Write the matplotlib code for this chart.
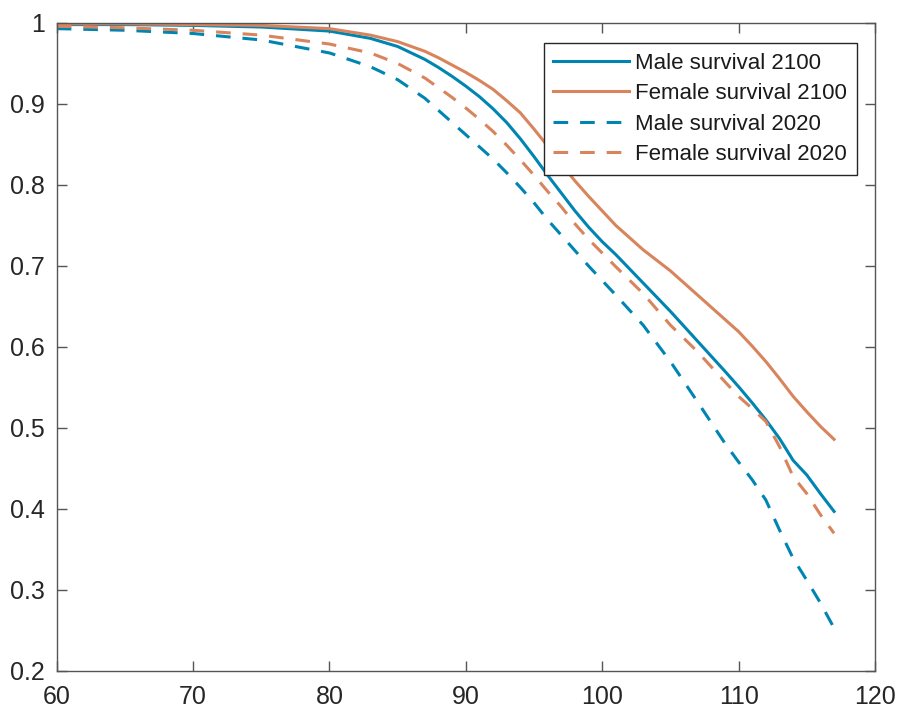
import matplotlib
matplotlib.use('Agg')
import matplotlib.pyplot as plt

plt.rcParams['font.family'] = ['Liberation Sans', 'DejaVu Sans']

# Survival probability by age
ages = [60, 65, 70, 75, 80, 83, 85, 87, 88, 89, 90, 91, 92, 93, 94, 95, 96, 97,
        98, 99, 100, 101, 103, 105, 107, 109, 110, 111, 112, 113, 114, 115, 116, 117]

male_2100 = [0.998, 0.998, 0.997, 0.995, 0.990, 0.981, 0.971, 0.955, 0.945, 0.934,
             0.922, 0.909, 0.894, 0.877, 0.857, 0.835, 0.812, 0.790, 0.768, 0.748,
             0.730, 0.714, 0.679, 0.644, 0.607, 0.570, 0.551, 0.531, 0.510, 0.487,
             0.460, 0.442, 0.419, 0.397]
female_2100 = [0.999, 0.999, 0.998, 0.997, 0.993, 0.985, 0.977, 0.965, 0.957, 0.948,
               0.939, 0.929, 0.918, 0.904, 0.889, 0.869, 0.848, 0.826, 0.805, 0.786,
               0.768, 0.750, 0.720, 0.694, 0.664, 0.634, 0.619, 0.601, 0.582, 0.561,
               0.539, 0.520, 0.502, 0.486]
male_2020 = [0.993, 0.991, 0.987, 0.979, 0.963, 0.946, 0.930, 0.907, 0.892, 0.877,
             0.862, 0.847, 0.832, 0.815, 0.797, 0.778, 0.757, 0.738, 0.719, 0.700,
             0.682, 0.664, 0.627, 0.582, 0.532, 0.481, 0.458, 0.436, 0.411, 0.374,
             0.339, 0.312, 0.284, 0.253]
female_2020 = [0.996, 0.994, 0.991, 0.985, 0.974, 0.963, 0.950, 0.932, 0.920, 0.908,
               0.895, 0.881, 0.866, 0.849, 0.831, 0.812, 0.792, 0.773, 0.752, 0.733,
               0.716, 0.699, 0.666, 0.627, 0.594, 0.557, 0.539, 0.524, 0.508, 0.477,
               0.440, 0.419, 0.393, 0.370]

x_ticks = [60, 70, 80, 90, 100, 110, 120]
y_ticks = [0.2, 0.3, 0.4, 0.5, 0.6, 0.7, 0.8, 0.9, 1.0]
y_tick_labels = ['0.2', '0.3', '0.4', '0.5', '0.6', '0.7', '0.8', '0.9', '1']

blue = '#0085B2'
orange = '#D8845C'
dash = (0, (4.8, 3.9))

fig = plt.figure(figsize=(9, 7.09), dpi=100)
ax = fig.add_axes([0.063, 0.0536, 0.9092, 0.914])

ax.plot(ages, male_2100, color=blue, lw=2.2, label='Male survival 2100')
ax.plot(ages, female_2100, color=orange, lw=2.2, label='Female survival 2100')
ax.plot(ages, male_2020, color=blue, lw=2.2, ls=dash, label='Male survival 2020')
ax.plot(ages, female_2020, color=orange, lw=2.2, ls=dash, label='Female survival 2020')

ax.set_xlim(60, 120)
ax.set_ylim(0.2, 1.0)
ax.set_xticks(x_ticks)
ax.set_yticks(y_ticks)
ax.set_yticklabels(y_tick_labels)

ax.tick_params(direction='in', length=7, width=1, colors='#555555',
               labelcolor='#262626', labelsize=18, top=True, right=True)
ax.tick_params(axis='x', pad=10)
ax.tick_params(axis='y', pad=8.5)
for spine in ax.spines.values():
    spine.set_edgecolor('#555555')
    spine.set_linewidth(1)

leg = ax.legend(loc='upper right', bbox_to_anchor=(0.9776, 0.9687), borderaxespad=0,
                fontsize=16, handlelength=3.4, handletextpad=0.3, labelspacing=0.43,
                borderpad=0.42, fancybox=False, framealpha=1, edgecolor='#262626')
leg.get_frame().set_linewidth(1)
for text in leg.get_texts():
    text.set_color('#1a1a1a')

fig.savefig('out.png', dpi=100, facecolor='white')
